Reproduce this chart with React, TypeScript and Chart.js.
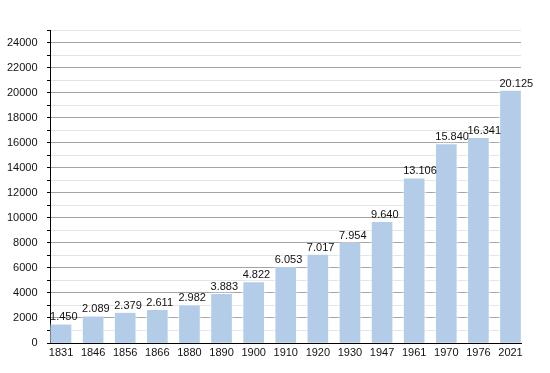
import React, { useEffect, useRef } from "react";
import { Chart, registerables } from "chart.js";

Chart.register(...registerables);

const years: string[] = ["1831", "1846", "1856", "1866", "1880", "1890", "1900", "1910", "1920", "1930", "1947", "1961", "1970", "1976", "2021"];
const population: number[] = [1450, 2089, 2379, 2611, 2982, 3883, 4822, 6053, 7017, 7954, 9640, 13106, 15840, 16341, 20125];
const yTicksMax = 25000;
const yStep = 1000;

const FONT = "'Liberation Sans', Arial, Helvetica, sans-serif";

function fmt(v: number): string {
  const s = String(Math.round(v));
  return s.replace(/\B(?=(\d{3})+(?!\d))/g, ".");
}

const valueLabels = {
  id: "valueLabels",
  beforeDatasetsDraw(chart: any) {
    const ctx = chart.ctx;
    ctx.save();
    ctx.shadowColor = "rgba(255,255,255,0.95)";
    ctx.shadowBlur = 4;
  },
  afterDatasetsDraw(chart: any) {
    const ctx = chart.ctx;
    ctx.restore();
    const meta = chart.getDatasetMeta(0);
    ctx.save();
    ctx.font = `11px ${FONT}`;
    ctx.fillStyle = "#111";
    ctx.textAlign = "left";
    ctx.textBaseline = "alphabetic";
    meta.data.forEach((bar: any, i: number) => {
      const left = bar.x - bar.width / 2;
      ctx.fillText(fmt(population[i]), left - 1, bar.y - 4.5);
    });
    ctx.restore();
  },
};

export default function App() {
  const ref = useRef<HTMLCanvasElement | null>(null);
  useEffect(() => {
    if (!ref.current) return;
    const chart = new Chart(ref.current, {
      type: "bar",
      data: {
        datasets: [
          {
            data: population.map((v, i) => ({ x: i, y: v })),
            backgroundColor: "#b3cde8",
            borderWidth: 0,
            barThickness: 20,
          },
        ],
      },
      options: {
        animation: false,
        responsive: false,
        layout: { padding: { top: 30, right: 29, left: 0, bottom: 0 } },
        plugins: { legend: { display: false }, tooltip: { enabled: false } },
        scales: {
          x: {
            type: "linear",
            offset: false,
            min: -0.343,
            max: 14.327,
            afterBuildTicks: (scale: any) => {
              scale.ticks = years.map((_, i) => ({ value: i }));
            },
            afterFit: (scale: any) => {
              scale.height = 30;
            },
            grid: { display: false, drawTicks: false, offset: false },
            border: { display: true, color: "#000", width: 1 },
            ticks: {
              autoSkip: false,
              maxRotation: 0,
              padding: 3,
              color: "#111",
              font: { family: FONT, size: 11 },
              callback: (v: any) => years[Number(v)] ?? "",
            },
          },
          y: {
            min: 0,
            max: yTicksMax,
            afterFit: (scale: any) => {
              scale.width = 50;
            },
            grid: {
              color: (c: any) => (c.tick && c.tick.value % 2000 === 0 ? "#a3a3a3" : "#e4e4e4"),
              tickColor: "#000",
              tickLength: 3,
            },
            border: { display: true, color: "#000", width: 1 },
            ticks: {
              autoSkip: false,
              stepSize: yStep,
              padding: 9.5,
              color: "#111",
              font: { family: FONT, size: 11 },
              callback: (v: any) => (Number(v) % 2000 === 0 ? String(v) : ""),
            },
          },
        },
      },
      plugins: [valueLabels],
    });
    return () => chart.destroy();
  }, []);
  return (
    <div style={{ position: "fixed", left: 0, top: 0, width: 550, height: 373, background: "#fff" }}>
      <canvas ref={ref} width={550} height={373} />
    </div>
  );
}
